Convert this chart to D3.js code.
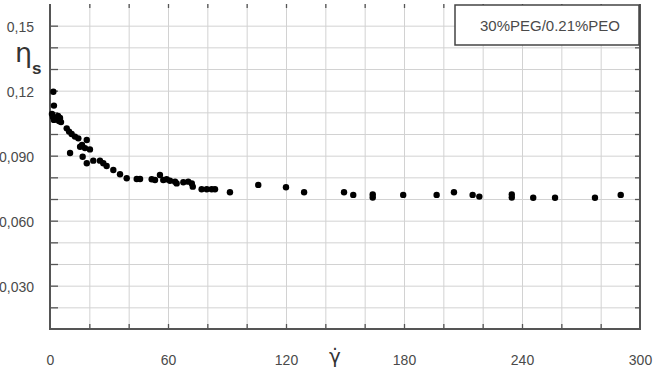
<!DOCTYPE html>
<html>
<head>
<meta charset="utf-8">
<script src="https://cdn.jsdelivr.net/npm/d3@7/dist/d3.min.js"></script>
<style>
    html, body { margin: 0; padding: 0; background: #fff; }
    svg { display: block; font-family: "Liberation Sans", Arial, sans-serif; }
</style>
</head>
<body>
<svg id="svg" width="658" height="372"></svg>
<script>
// shear rate (x) and viscosity (y)
var shearRate = [
    1.7, 2.0, 1.0, 1.5, 2.5, 3.6, 4.6, 5.6, 2.0, 4.1, 5.1,
    8.5, 9.7, 11.0, 12.7, 14.4, 18.7, 15.3, 16.3, 17.8, 20.3, 10.2,
    16.6, 18.7, 22.0, 25.4, 27.1, 28.8, 32.2, 35.6, 39.0, 44.1, 45.8,
    51.7, 53.4, 55.9, 57.6, 59.3, 61.0, 63.6, 64.4, 67.8, 70.3, 72.1,
    72.6, 77.1, 79.7, 82.2, 83.9, 91.5, 105.9, 120.0, 129.2, 149.5,
    154.2, 164.1, 164.1, 179.6, 196.6, 205.4, 214.9, 218.3, 234.8,
    234.8, 245.7, 256.8, 277.1, 290.2
];
var viscosity = [
    0.1195, 0.1131, 0.1092, 0.1078, 0.1074, 0.1069, 0.1060, 0.1055, 0.1065, 0.1083, 0.1074,
    0.1026, 0.1011, 0.1000, 0.0988, 0.0980, 0.0972, 0.0941, 0.0949, 0.0935, 0.0929, 0.0912,
    0.0895, 0.0865, 0.0877, 0.0877, 0.0865, 0.0852, 0.0834, 0.0814, 0.0796, 0.0792, 0.0792,
    0.0791, 0.0788, 0.0811, 0.0788, 0.0791, 0.0784, 0.0780, 0.0772, 0.0777, 0.0780, 0.0772,
    0.0757, 0.0745, 0.0745, 0.0745, 0.0745, 0.0731, 0.0765, 0.0754, 0.0731, 0.0731,
    0.0719, 0.0721, 0.0707, 0.0719, 0.0719, 0.0731, 0.0719, 0.0711, 0.0721,
    0.0707, 0.0706, 0.0706, 0.0706, 0.0719
];
var xTicks = [0, 60, 120, 180, 240, 300];
var xTickLabels = ['0', '60', '120', '180', '240', '300'];
var yTicks = [0.03, 0.06, 0.09, 0.12, 0.15];
var yTickLabels = ['0,030', '0,060', '0,090', '0,12', '0,15'];
var legendLabel = '30%PEG/0.21%PEO';

(function() {
    'use strict';

    var svg = d3.select('#svg');

    var left = 50, right = 640, top = 4, bottom = 329;

    var x = d3.scaleLinear().domain([0, 300]).range([left, right]);
    var y = d3.scaleLinear().domain([0.01, 0.16]).range([bottom, top]);

    var gridX = d3.range(20, 300, 20);
    var gridY = d3.range(2, 16).map(function (d) { return d / 100; });

    // grid lines
    svg.append('g')
        .attr('transform', 'translate(0,' + bottom + ')')
        .call(d3.axisBottom(x).tickValues(gridX).tickSize(-(bottom - top)).tickFormat(''))
        .call(function (g) { g.select('.domain').remove(); })
        .selectAll('line').attr('stroke', '#d2d2d2');

    svg.append('g')
        .attr('transform', 'translate(' + left + ',0)')
        .call(d3.axisLeft(y).tickValues(gridY).tickSize(-(right - left)).tickFormat(''))
        .call(function (g) { g.select('.domain').remove(); })
        .selectAll('line').attr('stroke', '#d2d2d2');

    // short inner ticks on every side
    function innerTicks(axis, tx, ty) {
        svg.append('g')
            .attr('transform', 'translate(' + tx + ',' + ty + ')')
            .call(axis.tickFormat(''))
            .call(function (g) { g.select('.domain').remove(); })
            .selectAll('line').attr('stroke', '#555').attr('stroke-width', 1.3);
    }
    innerTicks(d3.axisLeft(y).tickValues(gridY).tickSize(-8), left, 0);
    innerTicks(d3.axisRight(y).tickValues(gridY).tickSize(-5), right, 0);
    innerTicks(d3.axisBottom(x).tickValues(gridX).tickSize(-5), 0, bottom);
    innerTicks(d3.axisTop(x).tickValues(gridX).tickSize(-4), 0, top);

    // frame
    svg.append('path')
        .attr('d', 'M' + left + ',' + top + 'V' + bottom + 'H' + right + 'V' + top)
        .attr('fill', 'none')
        .attr('stroke', '#555')
        .attr('stroke-width', 2);

    // tick labels
    var xAxis = svg.append('g')
        .attr('transform', 'translate(0,' + bottom + ')')
        .call(d3.axisBottom(x).tickValues(xTicks).tickSize(0).tickPadding(26)
            .tickFormat(function (d, i) { return xTickLabels[i]; }));
    xAxis.select('.domain').remove();

    var yAxis = svg.append('g')
        .attr('transform', 'translate(' + left + ',0)')
        .call(d3.axisLeft(y).tickValues(yTicks).tickSize(0).tickPadding(16)
            .tickFormat(function (d, i) { return yTickLabels[i]; }));
    yAxis.select('.domain').remove();

    svg.selectAll('.tick text')
        .attr('fill', '#4a4a4a')
        .style('font-size', '14px')
        .style('font-family', '"Liberation Sans", Arial, sans-serif');
    yAxis.selectAll('.tick text').attr('dy', '0.45em');

    // axis titles
    svg.append('text')
        .attr('x', 15).attr('y', 62)
        .attr('fill', '#333')
        .style('font-family', '"DejaVu Sans", sans-serif')
        .style('font-size', '27px')
        .text('η');
    svg.append('text')
        .attr('x', 32).attr('y', 74)
        .attr('fill', '#333')
        .style('font-size', '17px')
        .style('font-weight', 'bold')
        .text('s');

    svg.append('text')
        .attr('x', 335).attr('y', 363)
        .attr('text-anchor', 'middle')
        .attr('fill', '#333')
        .style('font-family', '"DejaVu Sans", sans-serif')
        .style('font-size', '20px')
        .text('γ\u0307');

    // data points
    svg.append('g')
        .selectAll('circle')
        .data(shearRate)
        .enter()
        .append('circle')
        .attr('cx', function (d) { return x(d); })
        .attr('cy', function (d, i) { return y(viscosity[i]); })
        .attr('r', 3.2)
        .attr('fill', '#000');

    // legend box
    var legend = svg.append('g');
    legend.append('rect')
        .attr('x', 455).attr('y', 5)
        .attr('width', 184).attr('height', 40)
        .attr('fill', '#fff')
        .attr('stroke', '#444')
        .attr('stroke-width', 1.5);
    legend.append('text')
        .attr('x', 550).attr('y', 31)
        .attr('text-anchor', 'middle')
        .attr('fill', '#4a4a4a')
        .style('font-size', '15px')
        .text(legendLabel);
})();
</script>
</body>
</html>
